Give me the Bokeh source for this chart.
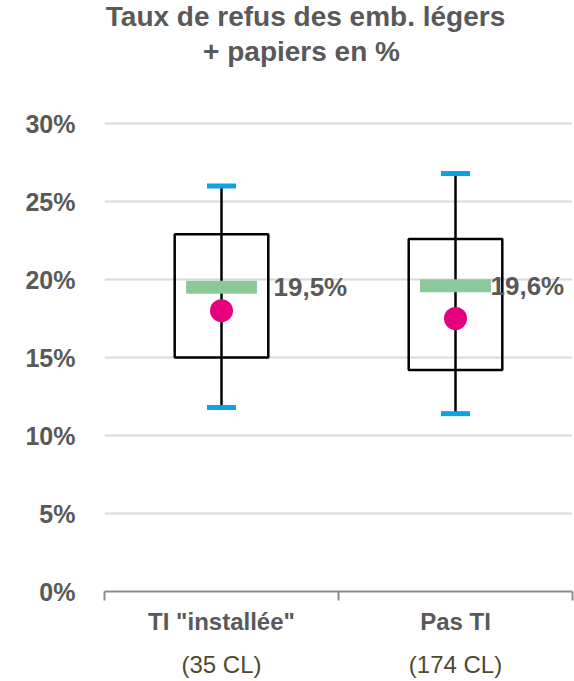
from bokeh.plotting import figure
from bokeh.models import Range1d, FixedTicker, LinearAxis, Label, ColumnDataSource
from bokeh.core.properties import value
from bokeh.transform import dodge
from bokeh.embed import file_html
from bokeh.resources import INLINE

# ---- data ----
categories = ['TI "installée"', 'Pas TI']
counts = ["(35 CL)", "(174 CL)"]
q1 = [15.0, 14.2]
q3 = [22.9, 22.6]
whisk_lo = [11.8, 11.4]
whisk_hi = [26.0, 26.8]
medians = [19.5, 19.6]
means = [18.0, 17.5]
median_labels = ["19,5%", "19,6%"]
y_ticks = [0, 5, 10, 15, 20, 25, 30]
y_tick_labels = ["0%", "5%", "10%", "15%", "20%", "25%", "30%"]
title_lines = ["Taux de refus des emb. légers", "+ papiers en %"]

# ---- styles ----
FONT = "Liberation Sans"
GRAY = "#595959"
OLIVE = "#4F4A2E"
BLUE = "#0DA2E6"
GREEN = "#8DC89B"
PINK = "#E6007E"
label_shift = [52, 35]
title_x = [201, 197]
title_dy = [107, 72]
W, H = 574, 681
FRAME_TOP_PX, FRAME_BOTTOM_PX = 123, 591   # pixel rows of the 30% and 0% lines
# the plot area extends up to the top of the canvas so the title can live in it
y_top = y_ticks[-1] * FRAME_BOTTOM_PX / (FRAME_BOTTOM_PX - FRAME_TOP_PX)

pos = list(range(len(categories)))
src = ColumnDataSource(dict(
    x=pos, q1=q1, q3=q3, lo=whisk_lo, hi=whisk_hi, med=medians,
    mean=means, lab=median_labels, shift=label_shift,
))

p = figure(width=W, height=H, x_range=Range1d(-0.5, 1.5),
           y_range=Range1d(y_ticks[0], y_top), title=None,
           output_backend="svg", toolbar_location=None,
           min_border_left=104, min_border_right=2, min_border_bottom=H - FRAME_BOTTOM_PX,
           min_border_top=0)
p.outline_line_color = None
p.background_fill_color = "white"
p.border_fill_color = "white"

# title: two centred lines above the 30% line
for line, tx, dy in zip(title_lines, title_x, title_dy):
    p.add_layout(Label(x=tx, x_units="screen", y=y_ticks[-1], y_offset=dy, text=line,
                       text_align="center", text_baseline="alphabetic", text_font=FONT,
                       text_font_size="28px", text_font_style="bold", text_color=GRAY))

# y axis / grid
p.yaxis.ticker = FixedTicker(ticks=y_ticks)
p.yaxis.major_label_overrides = {t: l for t, l in zip(y_ticks, y_tick_labels)}
p.yaxis.axis_line_color = None
p.yaxis.major_tick_line_color = None
p.yaxis.minor_tick_line_color = None
p.yaxis.major_tick_out = 0
p.yaxis.major_tick_in = 0
p.yaxis.major_label_standoff = 29
p.yaxis.major_label_text_font = FONT
p.yaxis.major_label_text_font_size = "25px"
p.yaxis.major_label_text_font_style = "bold"
p.yaxis.major_label_text_color = GRAY
p.ygrid.ticker = FixedTicker(ticks=y_ticks)
p.ygrid.grid_line_color = "#D9D9D9"
p.ygrid.grid_line_width = 2
p.xgrid.grid_line_color = None

# x axis
p.xaxis.ticker = FixedTicker(ticks=pos, minor_ticks=[-0.5, 0.5, 1.5])
p.xaxis.major_label_overrides = {i: c for i, c in zip(pos, categories)}
p.xaxis.major_tick_line_color = None
p.xaxis.major_tick_out = 0
p.xaxis.major_tick_in = 0
p.xaxis.minor_tick_out = 9
p.xaxis.minor_tick_in = 0
p.xaxis.minor_tick_line_color = "#8C8C8C"
p.xaxis.minor_tick_line_width = 2
p.xaxis.axis_line_color = "#8C8C8C"
p.xaxis.axis_line_width = 2
p.xaxis.major_label_standoff = 7
p.xaxis.major_label_text_font = FONT
p.xaxis.major_label_text_font_size = "24px"
p.xaxis.major_label_text_line_height = 1.0
p.xaxis.major_label_text_font_style = "bold"
p.xaxis.major_label_text_color = GRAY

ax2 = LinearAxis(ticker=FixedTicker(ticks=pos),
                 major_label_overrides={i: c for i, c in zip(pos, counts)})
ax2.axis_line_color = None
ax2.major_tick_line_color = None
ax2.minor_tick_line_color = None
ax2.major_tick_out = 0
ax2.major_tick_in = 0
ax2.major_label_standoff = 13
ax2.major_label_text_font = FONT
ax2.major_label_text_font_size = "24px"
ax2.major_label_text_line_height = 1.0
ax2.major_label_text_color = OLIVE
p.add_layout(ax2, "below")

# glyphs
p.segment(x0="x", y0="lo", x1="x", y1="hi", source=src, line_color="black", line_width=2.5)
p.quad(left=dodge("x", -0.2), right=dodge("x", 0.2), bottom="q1", top="q3", source=src,
       fill_color=None, line_color="black", line_width=2.5)
p.rect(x="x", y="hi", width=0.124, height=5, height_units="screen", source=src,
       fill_color=BLUE, line_color=None)
p.rect(x="x", y="lo", width=0.124, height=5, height_units="screen", source=src,
       fill_color=BLUE, line_color=None)
p.rect(x="x", y="med", width=0.303, height=13, height_units="screen", source=src,
       fill_color=GREEN, line_color=None)
p.scatter(x="x", y="mean", size=23, source=src, fill_color=PINK, line_color=None)
p.text(x="x", y="med", text="lab", x_offset="shift", source=src, text_font=value(FONT),
       text_font_size="26px", text_font_style="bold", text_color=GRAY,
       text_baseline="middle", text_align="left")

open("out.html", "w").write(file_html(p, INLINE))
